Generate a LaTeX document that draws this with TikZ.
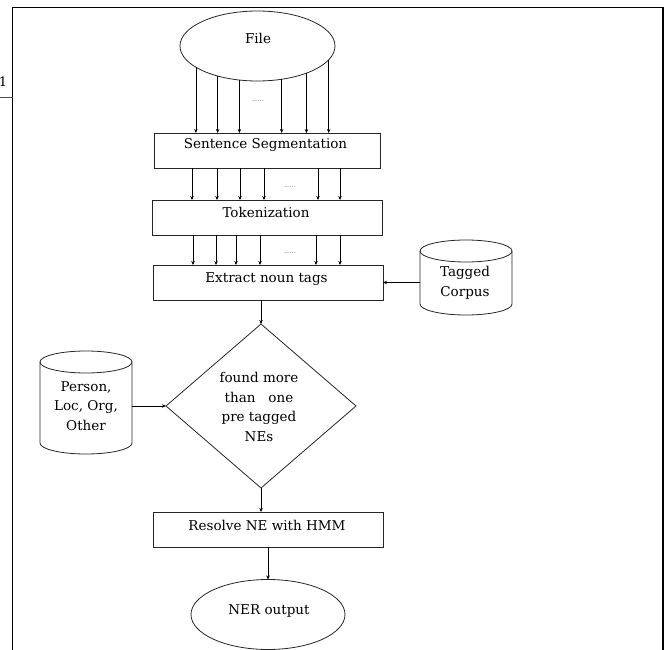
\documentclass[tikz,border=0pt]{standalone}
\usepackage{fontspec}
\setmainfont{DejaVu Serif}
\usetikzlibrary{shapes.geometric,arrows.meta}
\begin{document}
\begin{tikzpicture}[x=1pt,y=-1pt,
  shp/.style={draw=black!85, line width=0.8pt, inner sep=0pt, outer sep=0pt},
  boxn/.style={shp, rectangle, minimum width=230pt, minimum height=35pt},
  ell/.style={shp, ellipse, minimum width=155pt, minimum height=70pt},
  cylbox/.style={rectangle, inner sep=0pt, outer sep=0pt, minimum width=92pt},
  cylline/.style={draw=black!85, line width=0.8pt},
  dia/.style={shp, diamond, minimum width=190pt, minimum height=164pt},
  txt/.style={font=\fontsize{13.5}{19.5}\selectfont, inner sep=0pt, align=center},
  dots/.style={font=\fontsize{6}{7}\selectfont, text=black!75, inner sep=0pt},
  arr/.style={draw=black, line width=0.7pt, -{Stealth[length=4pt,width=3.5pt]}}]
\useasboundingbox (0,0) rectangle (667,650);
% frame
\draw[line width=1.7pt] (12.5,650) -- (12.5,7.5) -- (663,7.5) -- (663,650);
\node[font=\fontsize{13}{15}\selectfont, inner sep=0pt, anchor=base] (one) at (3,87) {1};
\draw[line width=0.6pt, black!70] (0,97) -- (12.5,97);
% shapes
\node[ell] (file) at (257.5,46) {};
\node[boxn, minimum width=226pt] (ss) at (267,150.5) {};
\node[boxn] (tok) at (267,217.5) {};
\node[boxn] (ent) at (268,282.5) {};
\node[cylbox, minimum height=75pt] (tc) at (466,277.5) {};
\node[dia] (dec) at (261,406) {};
\node[cylbox, minimum height=103pt] (pc) at (86,402.5) {};
\node[boxn] (res) at (268,529.5) {};
\node[ell, minimum width=154pt] (ner) at (268,614.5) {};
% cylinder outlines
\foreach \c in {tc,pc}{
  \draw[cylline] ([yshift=-11pt]\c.north) ellipse [x radius=46pt, y radius=11pt];
  \draw[cylline] ([yshift=-11pt]\c.north west) -- ([yshift=11pt]\c.south west)
     arc[start angle=180, end angle=360, x radius=46pt, y radius=11pt]
     -- ([yshift=-11pt]\c.north east);
}
% texts
\node[txt, anchor=base] (filet) at (258,44) {File};
\node[txt, anchor=base] (sst) at (265.5,149) {Sentence Segmentation};
\node[txt, anchor=base] (tokt) at (266,218) {Tokenization};
\node[txt, anchor=base] (entt) at (266.5,282) {Extract noun tags};
\node[txt] (tct) at (465,283) {Tagged\\Corpus};
\node[txt] (dect) at (259,407) {found more\\than\ \ \ one\\pre tagged\\NEs};
\node[txt] (pct) at (86,406) {Person,\\Loc, Org,\\Other};
\node[txt, anchor=base] (rest) at (267,530) {Resolve NE with HMM};
\node[txt, anchor=base] (nert) at (269,614) {NER output};
\node[dots] (d1) at (258,101) {......};
\node[dots] (d2) at (290,187) {......};
\node[dots] (d3) at (290,253) {......};
% arrows file -> ss
\foreach \a in {-161.7,-143.6,-118.5,-54.9,-29.4,-11.7}
  \draw[arr] (file.\a) -- (file.\a |- ss.north);
% ss -> tok
\foreach \x [count=\i] in {192,217,240,264,318,340}{
  \coordinate (p\i) at (\x,0);
  \draw[arr] (ss.south -| p\i) -- (tok.north -| p\i);
}
% tok -> ent
\foreach \x [count=\i] in {193,216,236,260,316,340}{
  \coordinate (q\i) at (\x,0);
  \draw[arr] (tok.south -| q\i) -- (ent.north -| q\i);
}
\draw[arr] (tc.west |- ent.east) -- (ent.east);
\draw[arr] (ent.south -| dec.north) -- (dec.north);
\draw[arr] (pc.east |- dec.west) -- (dec.west);
\draw[arr] (dec.south) -- (dec.south |- res.north);
\draw[arr] (res.south -| ner.north) -- (ner.north);
\end{tikzpicture}
\end{document}
